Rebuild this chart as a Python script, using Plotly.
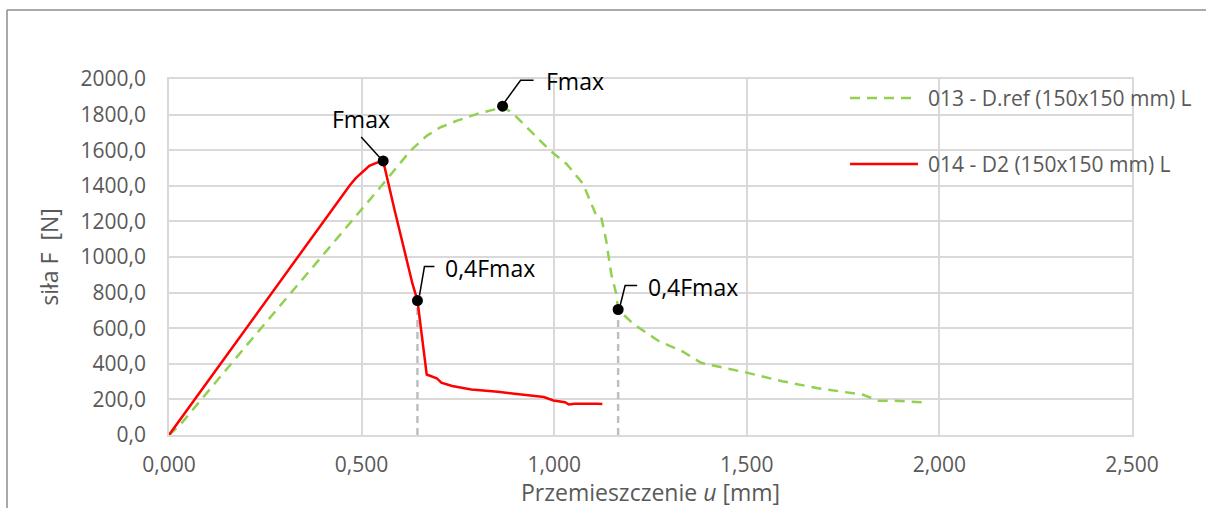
import plotly.graph_objects as go

# Specimen 013 - D.ref: displacement u [mm] and force F [N]
u_ref = [0.000, 0.030, 0.200, 0.400, 0.549, 0.627, 0.670, 0.705, 0.748, 0.800,
         0.843, 0.866, 0.894, 0.946, 0.989, 1.032, 1.075, 1.109, 1.122, 1.135,
         1.148, 1.161, 1.166, 1.206, 1.271, 1.331, 1.381, 1.401, 1.502, 1.592,
         1.682, 1.802, 1.842, 1.882, 1.964]
f_ref = [0, 60, 500, 1010, 1393, 1598, 1682, 1729, 1766, 1804,
         1828, 1847, 1804, 1692, 1598, 1523, 1411, 1234, 1224, 1093,
         906, 794, 705, 623, 528, 472, 406, 396, 349, 302,
         264, 226, 192, 192, 183]

# Specimen 014 - D2
u_d2 = [0.000, 0.440, 0.455, 0.470, 0.485, 0.500, 0.520, 0.540, 0.556, 0.585,
        0.605, 0.620, 0.632, 0.645, 0.669, 0.695, 0.707, 0.735, 0.785, 0.854,
        0.933, 0.973, 0.998, 1.028, 1.038, 1.053, 1.112, 1.125]
f_d2 = [0, 1320, 1362, 1405, 1443, 1475, 1512, 1530, 1540, 1270,
        1090, 960, 850, 755, 340, 319, 294, 275, 256, 243,
        224, 213, 194, 184, 171, 175, 176, 174]

series_names = ["013 - D.ref (150x150 mm) L", "014 - D2 (150x150 mm) L"]

# Characteristic points: Fmax and 0,4Fmax of each specimen
pt_labels = ["Fmax", "0,4Fmax", "Fmax", "0,4Fmax"]
pt_u = [0.556, 0.645, 0.866, 1.166]
pt_f = [1540, 755, 1847, 705]

y_ticks = [0, 200, 400, 600, 800, 1000, 1200, 1400, 1600, 1800, 2000]
x_ticks = [0.0, 0.5, 1.0, 1.5, 2.0, 2.5]

FONT = "Open Sans"
GREY_TXT = "#595959"
GRID = "#D9D9D9"
GREEN = "#92D050"
RED = "#FF0000"

W, H = 1206, 508
ML, MR, MT, MB = 169, 74, 79, 73
PW, PH = W - ML - MR, H - MT - MB


def px_x(px):
    return (px - ML) / PW


def px_y(py):
    return (H - MB - py) / PH


fig = go.Figure()

# dashed drop lines from the 0,4Fmax points down to the u axis
for lab, u, f in zip(pt_labels, pt_u, pt_f):
    if lab.startswith("0,4"):
        fig.add_trace(go.Scatter(
            x=[u, u], y=[0, f], mode="lines",
            line=dict(color="#BFBFBF", width=2.5, dash="7px,5px"),
            hoverinfo="skip", showlegend=False))

fig.add_trace(go.Scatter(
    x=u_ref, y=f_ref, mode="lines", name=series_names[0],
    line=dict(color=GREEN, width=2.5, dash="10px,7px"), showlegend=False))
fig.add_trace(go.Scatter(
    x=u_d2, y=f_d2, mode="lines", name=series_names[1],
    line=dict(color=RED, width=2.5), showlegend=False))

fig.add_trace(go.Scatter(
    x=pt_u, y=pt_f, mode="markers",
    marker=dict(color="black", size=11), showlegend=False, hoverinfo="skip"))

# leader lines (pixel offsets from the marked point, y upward) and label offsets
leaders = [
    ("M-3,3 L-22,24", -22, 42, "center"),
    ("M2,5 L7,34 L17,34", 26, 33, "left"),
    ("M2,4 L18,26 L31,26", 41, 25, "left"),
    ("M2,4 L7,24 L19,24", 28, 23, "left"),
]
for (path, dx, dy, anchor), lab, u, f in zip(leaders, pt_labels, pt_u, pt_f):
    fig.add_shape(type="path", path=path, xref="x", yref="y",
                  xsizemode="pixel", ysizemode="pixel", xanchor=u, yanchor=f,
                  line=dict(color="black", width=1.5))
    fig.add_annotation(x=u, y=f, text=lab, showarrow=False,
                       xanchor=anchor, yanchor="middle", xshift=dx, yshift=dy,
                       font=dict(family=FONT, size=23, color="black"))

# legend drawn on the right side of the plot area
legend_rows = [(98, GREEN, "10px,7px"), (164, RED, "solid")]
for name, (py, col, dash) in zip(series_names, legend_rows):
    fig.add_shape(type="line", xref="paper", yref="paper",
                  x0=px_x(850), x1=px_x(918), y0=px_y(py), y1=px_y(py),
                  line=dict(color=col, width=2.5, dash=dash))
    fig.add_annotation(xref="paper", yref="paper", x=px_x(926), y=px_y(py),
                       text=name, showarrow=False, xanchor="left", yanchor="middle",
                       font=dict(family=FONT, size=21, color=GREY_TXT))

# outer chart frame (left and top edges)
frame = dict(color="#8C8C8C", width=1.5)
fig.add_shape(type="line", xref="paper", yref="paper",
              x0=px_x(7), x1=px_x(7), y0=px_y(508), y1=px_y(10), line=frame)
fig.add_shape(type="line", xref="paper", yref="paper",
              x0=px_x(7), x1=px_x(1206), y0=px_y(10), y1=px_y(10), line=frame)

fig.update_layout(
    width=W, height=H,
    margin=dict(l=ML, r=MR, t=MT, b=MB),
    paper_bgcolor="white", plot_bgcolor="white",
    separators=", ",
    font=dict(family=FONT, size=21, color=GREY_TXT),
    showlegend=False,
)
fig.update_xaxes(
    range=[0, 2.5], tickvals=x_ticks, tickformat=".3f",
    showgrid=True, gridcolor=GRID, gridwidth=1.5,
    showline=True, linecolor=GRID, linewidth=1.5, mirror=True,
    zeroline=False, ticks="", ticklabelstandoff=10,
    tickfont=dict(family=FONT, size=21, color=GREY_TXT),
    title=dict(text="Przemieszczenie <i>u</i> [mm]", standoff=3,
               font=dict(family=FONT, size=23, color=GREY_TXT)),
)
fig.update_yaxes(
    range=[0, 2000], tickvals=y_ticks, tickformat=".1f",
    showgrid=True, gridcolor=GRID, gridwidth=1.5,
    showline=True, linecolor=GRID, linewidth=1.5, mirror=True,
    zeroline=False, ticks="", ticklabelstandoff=17,
    tickfont=dict(family=FONT, size=21, color=GREY_TXT),
    title=dict(text="siła F\u00a0 [N]", standoff=16,
               font=dict(family=FONT, size=23, color=GREY_TXT)),
)

fig.write_html("out.html")
